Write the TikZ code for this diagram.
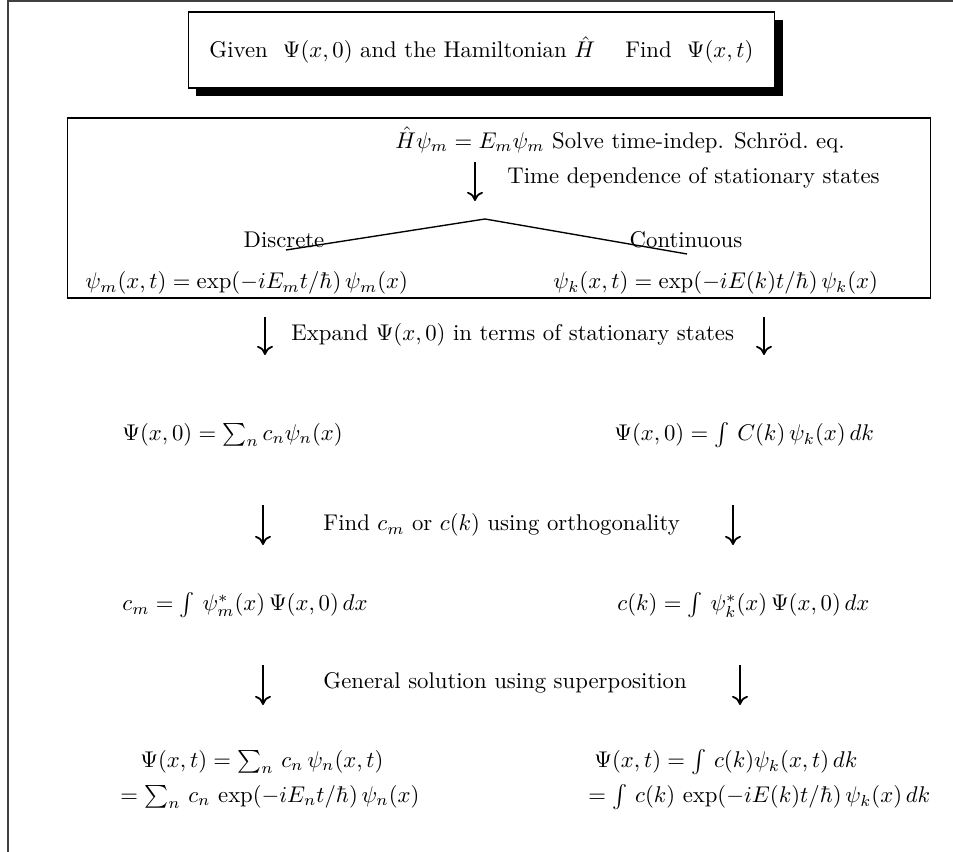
\documentclass[tikz,border=0pt]{standalone}
\usepackage{amsmath}
\usepackage{tikz}
\usetikzlibrary{positioning,arrows.meta,shadows}

\begin{document}
\begin{tikzpicture}[
  x=0.44pt, y=-0.44pt,
  txt/.style={inner sep=0pt, anchor=west},
  arr/.style={-{Computer Modern Rightarrow[length=4pt, width=7pt]}, line width=0.8pt},
  titlebox/.style={draw, line width=0.7pt, fill=white, minimum width=258pt, minimum height=33.4pt,
    drop shadow={shadow xshift=3.5pt, shadow yshift=-3.5pt, opacity=1, fill=black}},
  bigbox/.style={draw, line width=0.5pt, minimum width=380pt, minimum height=79.2pt}
]
\useasboundingbox (0,0) rectangle (953,852);
% page frame
\draw[line width=0.9pt, black!75] (953,1) -- (8,1) -- (8,852);

% title
\node[titlebox] (title) at (481.5,50) {Given\ \ $\Psi(x,0)$ and the Hamiltonian $\hat H$\quad\ Find\ \ $\Psi(x,t)$};

% stationary states box
\node[bigbox] (box) at (499,208) {};
\node[txt] (schrod) at (395,140) {$\hat H\psi_m = E_m\psi_m$ Solve time-indep. Schr\"od.\ eq.};
\coordinate (t0) at (475,162);
\coordinate (t1) at (475,201);
\draw[arr] (t0) -- (t1);
\node[txt] (tdep) at (507,178) {Time dependence of stationary states};
\node (disc) at (284,240) {Discrete};
\node (cont) at (686,240) {Continuous};
\coordinate (peak) at (485,219);
\coordinate (dend) at (286,250);
\coordinate (cend) at (687,254);
\draw[line width=0.6pt] (dend) -- (peak) -- (cend);
\node[txt] (psim) at (85,283) {$\psi_m(x,t) = \exp(-iE_m t/\hbar)\,\psi_m(x)$};
\node[txt] (psik) at (553,283) {$\psi_k(x,t) = \exp(-iE(k)t/\hbar)\,\psi_k(x)$};

% expand
\coordinate (e0) at (265,317);
\coordinate (e1) at (265,355);
\coordinate (f0) at (764,317);
\coordinate (f1) at (764,355);
\draw[arr] (e0) -- (e1);
\draw[arr] (f0) -- (f1);
\node[txt] (expand) at (291,335) {Expand $\Psi(x,0)$ in terms of stationary states};
\node[txt] (summ) at (122,435) {$\Psi(x,0) = \sum_n c_n\psi_n(x)$};
\node[txt] (intk) at (614,435) {$\Psi(x,0) = \int\, C(k)\,\psi_k(x)\,dk$};

% orthogonality
\coordinate (o0) at (263,505);
\coordinate (o1) at (263,545);
\coordinate (p0) at (733,505);
\coordinate (p1) at (733,545);
\draw[arr] (o0) -- (o1);
\draw[arr] (p0) -- (p1);
\node[txt] (find) at (323,525) {Find $c_m$ or $c(k)$ using orthogonality};
\node[txt] (cm) at (122,605) {$c_m = \int\,\psi^*_m(x)\,\Psi(x,0)\,dx$};
\node[txt] (ck) at (617,605) {$c(k) = \int\,\psi^*_k(x)\,\Psi(x,0)\,dx$};

% superposition
\coordinate (s0) at (263,665);
\coordinate (s1) at (263,705);
\coordinate (u0) at (740,665);
\coordinate (u1) at (740,705);
\draw[arr] (s0) -- (s1);
\draw[arr] (u0) -- (u1);
\node[txt] (gensol) at (323,683) {General solution using superposition};
\node[txt] (solm1) at (140,762) {$\Psi(x,t) = \sum_n\,c_n\,\psi_n(x,t)$};
\node[txt] (solm2) at (120,797) {$= \sum_n\,c_n\,\exp(-iE_n t/\hbar)\,\psi_n(x)$};
\node[txt] (solk1) at (594,762) {$\Psi(x,t) = \int\,c(k)\psi_k(x,t)\,dk$};
\node[txt] (solk2) at (588,797) {$= \int\,c(k)\,\exp(-iE(k)t/\hbar)\,\psi_k(x)\,dk$};
\end{tikzpicture}
\end{document}
